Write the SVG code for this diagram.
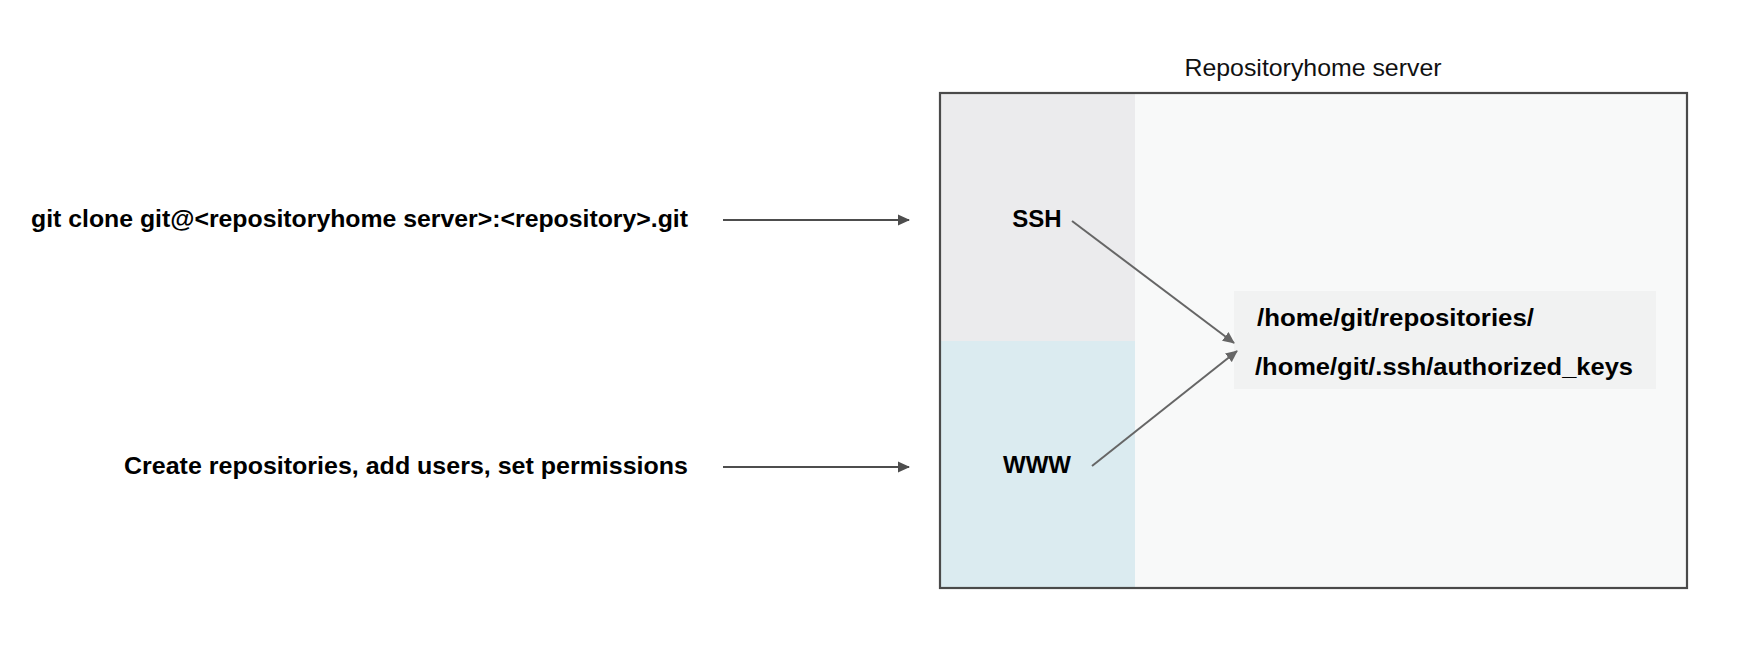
<svg xmlns="http://www.w3.org/2000/svg" width="1756" height="658" viewBox="0 0 1756 658">
<style>
.lbl{font-family:"Liberation Sans",Arial,sans-serif;font-weight:bold;font-size:24px;fill:#000}
.title{font-family:"Liberation Sans",Arial,sans-serif;font-size:24px;fill:#111}
.conn{stroke:#4d4d4d;stroke-width:2;fill:none}
.diag{stroke:#666;stroke-width:2;fill:none}
</style>
<defs>
<marker id="ah" viewBox="0 0 12 12" refX="11" refY="6" markerWidth="12" markerHeight="12" markerUnits="userSpaceOnUse" orient="auto">
<path d="M0,0.5 L12,6 L0,11.5 Z" fill="#4d4d4d"/>
</marker>
<marker id="ah2" viewBox="0 0 12 12" refX="11" refY="6" markerWidth="12" markerHeight="12" markerUnits="userSpaceOnUse" orient="auto">
<path d="M0,0.5 L12,6 L0,11.5 Z" fill="#666"/>
</marker>
</defs>
<rect width="1756" height="658" fill="#fff"/>
<g id="server">
<rect x="940" y="93" width="747" height="495" fill="#f8f9f9"/>
<rect x="940" y="93" width="195" height="248" fill="#ebebed"/>
<rect x="940" y="341" width="195" height="247" fill="#dbebf0"/>
<rect x="940" y="93" width="747" height="495" fill="none" stroke="#4a4a4a" stroke-width="2.2"/>
<text class="title" x="1313" y="76" text-anchor="middle" textLength="257" lengthAdjust="spacingAndGlyphs">Repositoryhome server</text>
</g>
<g id="cmd-clone">
<text class="lbl" x="688" y="227" text-anchor="end" textLength="657" lengthAdjust="spacingAndGlyphs">git clone git@&lt;repositoryhome server&gt;:&lt;repository&gt;.git</text>
</g>
<g id="cmd-admin">
<text class="lbl" x="688" y="474" text-anchor="end" textLength="564" lengthAdjust="spacingAndGlyphs">Create repositories, add users, set permissions</text>
</g>
<g id="ssh">
<text class="lbl" x="1037" y="227" text-anchor="middle">SSH</text>
</g>
<g id="www">
<text class="lbl" x="1037" y="473" text-anchor="middle">WWW</text>
</g>
<g id="storage">
<rect x="1234" y="291" width="422" height="98" fill="#f1f2f2"/>
<text class="lbl" x="1257" y="326" textLength="277" lengthAdjust="spacingAndGlyphs">/home/git/repositories/</text>
<text class="lbl" x="1255" y="375" textLength="378" lengthAdjust="spacingAndGlyphs">/home/git/.ssh/authorized_keys</text>
</g>
<g id="connectors">
<line class="conn" x1="723" y1="220" x2="909" y2="220" marker-end="url(#ah)"/>
<line class="conn" x1="723" y1="467" x2="909" y2="467" marker-end="url(#ah)"/>
<line class="diag" x1="1072" y1="221" x2="1234" y2="343" marker-end="url(#ah2)"/>
<line class="diag" x1="1092" y1="466" x2="1237" y2="351" marker-end="url(#ah2)"/>
</g>
</svg>
